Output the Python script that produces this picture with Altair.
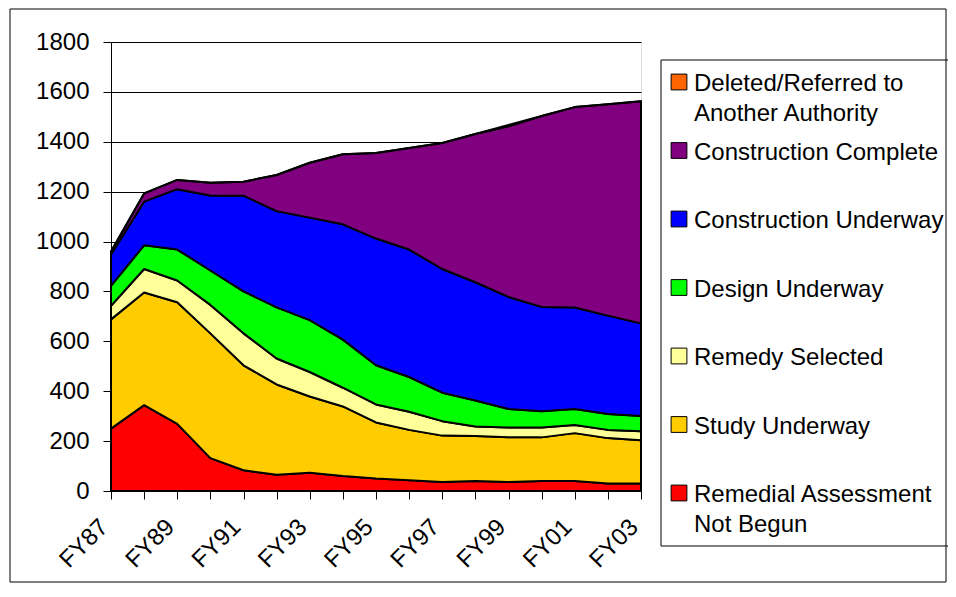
import altair as alt
import pandas as pd

years = ["FY87", "FY88", "FY89", "FY90", "FY91", "FY92", "FY93", "FY94", "FY95",
         "FY96", "FY97", "FY98", "FY99", "FY00", "FY01", "FY02", "FY03"]

series = ["Remedial Assessment Not Begun", "Study Underway", "Remedy Selected",
          "Design Underway", "Construction Underway", "Construction Complete",
          "Deleted/Referred to Another Authority"]
colors = ["#FF0000", "#FFCC00", "#FFFF99", "#00FF00", "#0000FF", "#800080", "#FF6600"]

remedial = [250, 344, 269, 132, 83, 65, 73, 60, 50, 43, 36, 40, 36, 40, 40, 30, 30]
study = [438, 452, 488, 500, 421, 362, 306, 279, 225, 202, 186, 180, 179, 175, 192, 182, 173]
remedy = [54, 94, 87, 114, 128, 104, 98, 75, 72, 73, 58, 39, 40, 40, 33, 33, 37]
design = [80, 95, 124, 138, 168, 205, 208, 193, 157, 139, 114, 104, 74, 65, 64, 64, 61]
underway = [126, 175, 242, 301, 384, 386, 411, 462, 508, 511, 496, 474, 449, 418, 407, 394, 371]
complete = [12, 33, 37, 51, 56, 145, 220, 281, 343, 407, 505, 594, 684, 765, 803, 847, 890]
deleted = [0, 0, 0, 0, 0, 0, 0, 0, 0, 0, 0, 0, 5, 0, 0, 0, 0]

shown_labels = years[::2]

legend_labels = ["Deleted/Referred to\nAnother Authority", "Construction Complete",
                 "Construction Underway", "Design Underway", "Remedy Selected",
                 "Study Underway", "Remedial Assessment\nNot Begun"]
legend_colors = colors[::-1]

values = [remedial, study, remedy, design, underway, complete, deleted]
rows = []
for k, (name, vals) in enumerate(zip(series, values)):
    for y, v in zip(years, vals):
        rows.append({"year": y, "series": name, "value": v, "order": k})
df = pd.DataFrame(rows)

leg = pd.DataFrame({"label": legend_labels, "color": legend_colors,
                    "idx": list(range(len(legend_labels)))})
one = pd.DataFrame({"a": [0]})

W, H = 530, 449
FONT = "Liberation Sans"

label_expr = "indexof(" + str(shown_labels).replace('"', "'") + ", datum.value) >= 0 ? datum.label : ''"

areas = alt.Chart(df).mark_area(stroke="black", strokeWidth=2, strokeJoin="round").encode(
    x=alt.X("year:N", sort=years, scale=alt.Scale(type="point", padding=0),
            axis=alt.Axis(title=None, labelAngle=-45, labelAlign="right", labelBaseline="middle",
                          labelExpr=label_expr, labelOverlap=False, labelFontSize=24,
                          labelFont=FONT, labelColor="black", labelPadding=24, labelOffset=-7,
                          tickSize=8, tickColor="black", domainColor="black", grid=False)),
    y=alt.Y("value:Q", stack="zero", scale=alt.Scale(domain=[0, 1800], nice=False),
            axis=alt.Axis(title=None, values=list(range(0, 1801, 200)), format="d", tickSize=8,
                          tickColor="black", domainColor="black", labelFontSize=24,
                          labelFont=FONT, labelColor="black", labelPadding=14,
                          grid=True, gridColor="black", gridWidth=1)),
    color=alt.Color("series:N", scale=alt.Scale(domain=series, range=colors), legend=None),
    order=alt.Order("order:Q"),
)

outer = alt.Chart(one).mark_rect(fillOpacity=0, stroke="black", strokeWidth=1).encode(
    x=alt.value(-101), x2=alt.value(835), y=alt.value(-33), y2=alt.value(540))

legend_box = alt.Chart(one).mark_rect(fillOpacity=0, stroke="black", strokeWidth=1).encode(
    x=alt.value(550), x2=alt.value(860), y=alt.value(18), y2=alt.value(504))

ly = alt.Y("idx:Q", scale=alt.Scale(domain=[0, 6], range=[40, 451]), axis=None)

leg_sq = alt.Chart(leg).mark_square(size=250, stroke="black", strokeWidth=1, opacity=1).encode(
    x=alt.value(568), y=ly,
    color=alt.Color("color:N", scale=None))

leg_txt = alt.Chart(leg).mark_text(align="left", baseline="alphabetic", fontSize=24,
                                    font=FONT, lineHeight=30, lineBreak="\n", dy=9,
                                    color="black").encode(
    x=alt.value(583), y=ly, text="label:N")

chart = alt.layer(areas, outer, legend_box, leg_sq, leg_txt).resolve_scale(
    y="independent", color="independent"
).properties(
    width=W, height=H,
    padding={"left": 103, "top": 34, "right": 307, "bottom": 92},
    autosize=alt.AutoSizeParams(type="none"),
).configure_view(fill="#C0C0C0", stroke="#808080", strokeWidth=1).configure(
    background="white", font=FONT)

chart.save("out.html", embed_options={"renderer": "svg", "actions": False})
